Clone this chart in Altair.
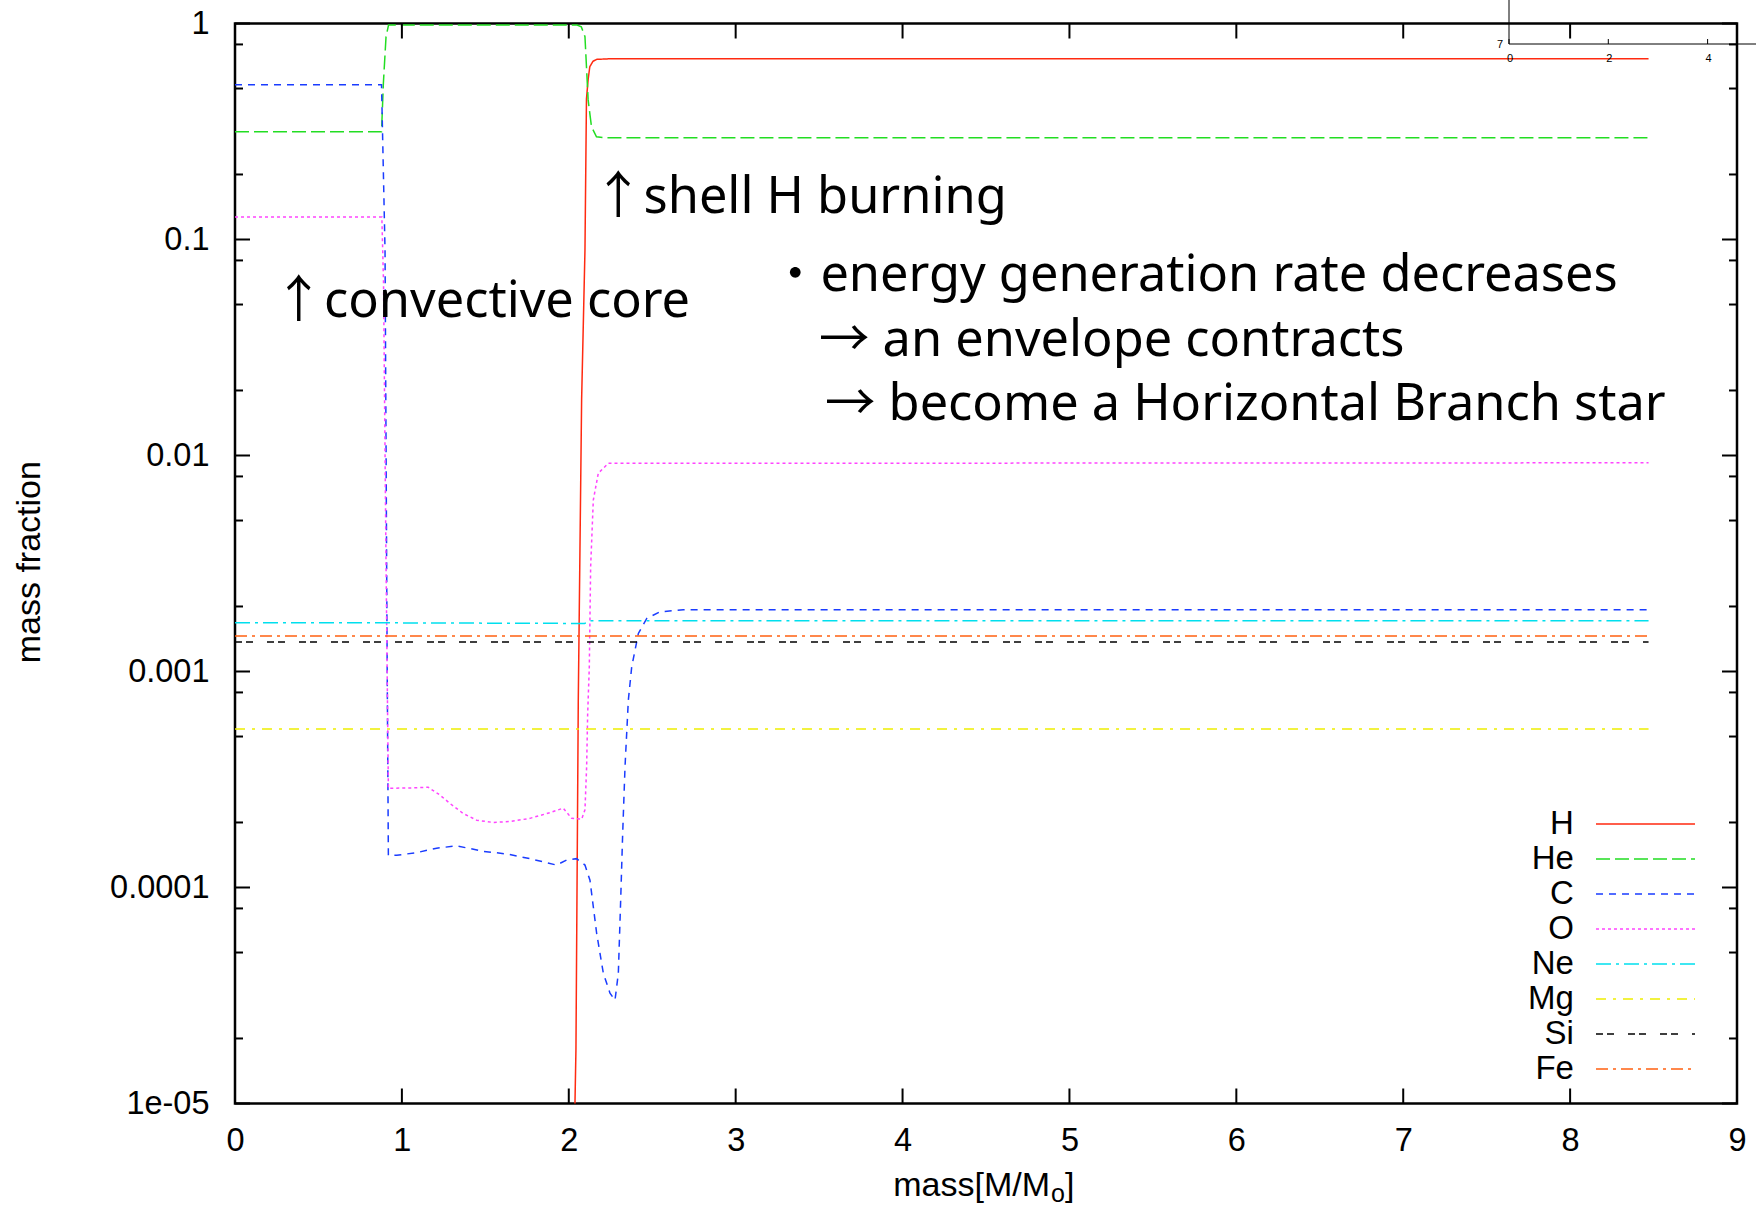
import altair as alt
import pandas as pd

# ---------------- data ----------------
species = ["H", "He", "C", "O", "Ne", "Mg", "Si", "Fe"]
colors = ["#ff2a10", "#22dd22", "#1a3cff", "#ff44ff", "#00dfee", "#eeee00", "#000000", "#ff6010"]
dashes = [[1, 0], [14, 5], [7, 6], [3, 3], [15, 5, 3, 5], [10, 7, 3, 7], [7, 4, 7, 14], [12, 5, 3, 5]]

H_m = [2.030, 2.043, 2.057, 2.077, 2.097, 2.106, 2.116, 2.126, 2.145, 2.166, 2.250, 8.470]
H_v = [5.0e-6, 1.78e-5, 7.41e-4, 0.0182, 0.0891, 0.447, 0.550, 0.631, 0.668, 0.682, 0.687, 0.687]

He_m = [0.0, 0.878, 0.889, 0.905, 0.920, 2.050, 2.075, 2.097, 2.106, 2.116, 2.136, 2.166, 2.220, 8.470]
He_v = [0.315, 0.315, 0.528, 0.869, 0.984, 0.984, 0.966, 0.869, 0.631, 0.443, 0.333, 0.299, 0.296, 0.296]

C_m = [0.0, 0.878, 0.899, 0.912, 0.919, 0.969, 1.088, 1.208, 1.328, 1.488, 1.628, 1.767, 1.927,
       1.987, 2.047, 2.097, 2.127, 2.167, 2.207, 2.247, 2.277, 2.297, 2.311, 2.323, 2.337, 2.357,
       2.377, 2.417, 2.467, 2.546, 2.686, 8.470]
C_v = [0.520, 0.520, 0.0891, 1.0e-3, 1.41e-4, 1.41e-4, 1.45e-4, 1.52e-4, 1.56e-4, 1.47e-4, 1.43e-4,
       1.36e-4, 1.27e-4, 1.34e-4, 1.36e-4, 1.27e-4, 1.08e-4, 6.14e-5, 4.01e-5, 3.24e-5, 3.01e-5,
       4.01e-5, 8.75e-5, 1.78e-4, 3.62e-4, 7.38e-4, 1.05e-3, 1.50e-3, 1.76e-3, 1.89e-3, 1.93e-3, 1.93e-3]

O_m = [0.0, 0.880, 0.890, 0.905, 0.919, 1.049, 1.158, 1.228, 1.288, 1.368, 1.448, 1.548, 1.648,
       1.767, 1.887, 1.967, 2.017, 2.077, 2.097, 2.107, 2.113, 2.123, 2.131, 2.147, 2.177, 2.237, 8.470]
O_v = [0.127, 0.127, 0.0631, 3.16e-3, 2.88e-4, 2.89e-4, 2.91e-4, 2.68e-4, 2.45e-4, 2.20e-4, 2.05e-4,
       2.00e-4, 2.02e-4, 2.09e-4, 2.22e-4, 2.33e-4, 2.09e-4, 2.07e-4, 2.29e-4, 3.62e-4, 6.31e-4,
       1.05e-3, 3.05e-3, 6.22e-3, 8.28e-3, 9.20e-3, 9.25e-3]

Ne_m = [0.0, 0.9, 2.0, 2.095, 2.135, 8.47]
Ne_v = [1.68e-3, 1.68e-3, 1.67e-3, 1.67e-3, 1.72e-3, 1.72e-3]
Mg_m = [0.0, 8.47]
Mg_v = [5.42e-4, 5.42e-4]
Si_m = [0.0, 8.47]
Si_v = [1.37e-3, 1.37e-3]
Fe_m = [0.0, 8.47]
Fe_v = [1.46e-3, 1.46e-3]

x_ticks = [0, 1, 2, 3, 4, 5, 6, 7, 8, 9]
y_ticks = [1, 0.1, 0.01, 0.001, 0.0001, 1e-05]
y_tick_labels = ["1", "0.1", "0.01", "0.001", "0.0001", "1e-05"]
y_minor = [2e-5, 5e-5, 8e-5, 2e-4, 5e-4, 8e-4, 2e-3, 5e-3, 8e-3, 0.02, 0.05, 0.08, 0.2, 0.5, 0.8]

ann_text = ["↑shell H burning", "↑convective core", "・energy generation rate decreases",
            "→ an envelope contracts", "→ become a Horizontal Branch star"]
ann_m = [2.145, 0.231, 3.205, 3.499, 3.535]
ann_f = [0.133, 0.0438, 0.0578, 0.0289, 0.0146]

inset_labels = ["0", "2", "4"]

# ---------------- build ----------------
series = {"H": (H_m, H_v), "He": (He_m, He_v), "C": (C_m, C_v), "O": (O_m, O_v),
          "Ne": (Ne_m, Ne_v), "Mg": (Mg_m, Mg_v), "Si": (Si_m, Si_v), "Fe": (Fe_m, Fe_v)}
rows = []
for sp in species:
    ms, vs = series[sp]
    for m, v in zip(ms, vs):
        rows.append({"m": m, "f": v, "species": sp})
df = pd.DataFrame(rows)

W, H = 1502, 1080
FONT = "Liberation Sans"
ANN_FONT = "Noto Sans, Noto Sans CJK JP"

label_expr = ""
for v, lab in zip(y_ticks[:-1], y_tick_labels[:-1]):
    label_expr += f"datum.value > {v * 0.5} ? '{lab}' : "
label_expr += f"'{y_tick_labels[-1]}'"

x_axis = alt.Axis(values=x_ticks, labelFontSize=32.5, labelFont=FONT, labelColor="black",
                  ticks=False, tickSize=0, domain=False, grid=False, labelPadding=21,
                  title=None, labelFlush=False, labelOverlap=False)
y_axis = alt.Axis(values=y_ticks, labelExpr=label_expr, labelFontSize=32.5, labelFont=FONT,
                  labelColor="black", ticks=False, tickSize=0, domain=False, grid=False,
                  labelPadding=26, labelFlush=False, labelOverlap=False,
                  title="mass fraction", titleFontSize=34, titleFont=FONT, titleFontWeight="normal",
                  titleColor="black", titleAngle=270, titleX=-196, titleY=538.2,
                  titleAlign="center", titleBaseline="alphabetic")

x_enc = alt.X("m:Q", scale=alt.Scale(domain=[0, 9], nice=False, zero=False), axis=x_axis)
y_enc = alt.Y("f:Q", scale=alt.Scale(type="log", domain=[1e-5, 1], nice=False), axis=y_axis)

# labels are padded with non-breaking spaces (closed by a zero-width space so they are not
# trimmed) so that they sit to the left of the sample line, as in gnuplot keys
nbsp_pad = "\u00a0" * 14 + "\u200b"
legend = alt.Legend(orient="none", legendX=1238, legendY=783, title=None, symbolType="stroke",
                    symbolSize=9801, symbolStrokeWidth=1.5, clipHeight=35, rowPadding=0,
                    labelAlign="right", labelBaseline="middle", labelOffset=6.3, symbolOffset=122,
                    labelExpr=f"datum.label + '{nbsp_pad}'",
                    labelFontSize=33, labelFont=FONT, labelColor="black", labelLimit=600,
                    padding=0)

lines = alt.Chart(df).mark_line(clip=True, strokeWidth=1.5).encode(
    x=x_enc, y=y_enc,
    color=alt.Color("species:N", scale=alt.Scale(domain=species, range=colors), legend=legend, sort=species),
    strokeDash=alt.StrokeDash("species:N", scale=alt.Scale(domain=species, range=dashes), legend=legend, sort=species),
)

df_xt = pd.DataFrame({"m": x_ticks})
df_yt = pd.DataFrame({"f": y_ticks})
df_ym = pd.DataFrame({"f": y_minor})

tick_style = dict(color="black", strokeWidth=2)
xt_bottom = alt.Chart(df_xt).mark_rule(**tick_style).encode(x=x_enc, y=alt.value(H), y2=alt.value(H - 15))
xt_top = alt.Chart(df_xt).mark_rule(**tick_style).encode(x=x_enc, y=alt.value(0), y2=alt.value(15))
yt_left = alt.Chart(df_yt).mark_rule(**tick_style).encode(y=y_enc, x=alt.value(0), x2=alt.value(15))
yt_right = alt.Chart(df_yt).mark_rule(**tick_style).encode(y=y_enc, x=alt.value(W - 15), x2=alt.value(W))
ym_left = alt.Chart(df_ym).mark_rule(**tick_style).encode(y=y_enc, x=alt.value(0), x2=alt.value(8))
ym_right = alt.Chart(df_ym).mark_rule(**tick_style).encode(y=y_enc, x=alt.value(W - 8), x2=alt.value(W))

df_ann = pd.DataFrame({"m": ann_m, "f": ann_f, "t": ann_text})
ann = alt.Chart(df_ann).mark_text(align="left", baseline="alphabetic", font=ANN_FONT,
                                  fontSize=50.5, color="black").encode(x=x_enc, y=y_enc, text="t:N")

# x-axis title with subscript
xt1 = alt.Chart(pd.DataFrame({"t": ["mass[M/M"]})).mark_text(
    align="left", baseline="alphabetic", font=FONT, fontSize=34, color="black"
).encode(x=alt.value(658.3), y=alt.value(1172.5), text="t:N")
xt2 = alt.Chart(pd.DataFrame({"t": ["o"]})).mark_text(
    align="left", baseline="alphabetic", font=FONT, fontSize=25, color="black"
).encode(x=alt.value(816.0), y=alt.value(1178.5), text="t:N")
xt3 = alt.Chart(pd.DataFrame({"t": ["]"]})).mark_text(
    align="left", baseline="alphabetic", font=FONT, fontSize=34, color="black"
).encode(x=alt.value(830.0), y=alt.value(1172.5), text="t:N")

# stray inset fragment at top right
one = pd.DataFrame({"a": [0]})
inset_layers = [
    alt.Chart(one).mark_rule(color="black", strokeWidth=1).encode(
        x=alt.value(1274), x2=alt.value(1274), y=alt.value(-23.5), y2=alt.value(20.5)),
    alt.Chart(one).mark_rule(color="black", strokeWidth=1).encode(
        x=alt.value(1274), x2=alt.value(1521), y=alt.value(20.5), y2=alt.value(20.5)),
    alt.Chart(pd.DataFrame({"t": ["7"]})).mark_text(
        align="right", baseline="alphabetic", font=FONT, fontSize=11, color="black"
    ).encode(x=alt.value(1268), y=alt.value(24.8), text="t:N"),
]
for i, lab in enumerate(inset_labels):
    xp = 1274 + i * 99.3
    inset_layers.append(alt.Chart(one).mark_rule(color="black", strokeWidth=1).encode(
        x=alt.value(xp), x2=alt.value(xp), y=alt.value(15.5), y2=alt.value(20.5)))
    inset_layers.append(alt.Chart(pd.DataFrame({"t": [lab]})).mark_text(
        align="center", baseline="alphabetic", font=FONT, fontSize=11, color="black"
    ).encode(x=alt.value(xp + 1), y=alt.value(38.5), text="t:N"))

chart = alt.layer(
    lines, xt_bottom, xt_top, yt_left, yt_right, ym_left, ym_right, ann, xt1, xt2, xt3, *inset_layers
).properties(
    width=W, height=H,
    padding={"left": 235, "top": 23.5, "right": 19, "bottom": 105.5},
    autosize=alt.AutoSizeParams(type="none"),
    background="white",
).configure_view(stroke="black", strokeWidth=2.5)

chart.save("out.html", embed_options={"renderer": "svg", "actions": False})
